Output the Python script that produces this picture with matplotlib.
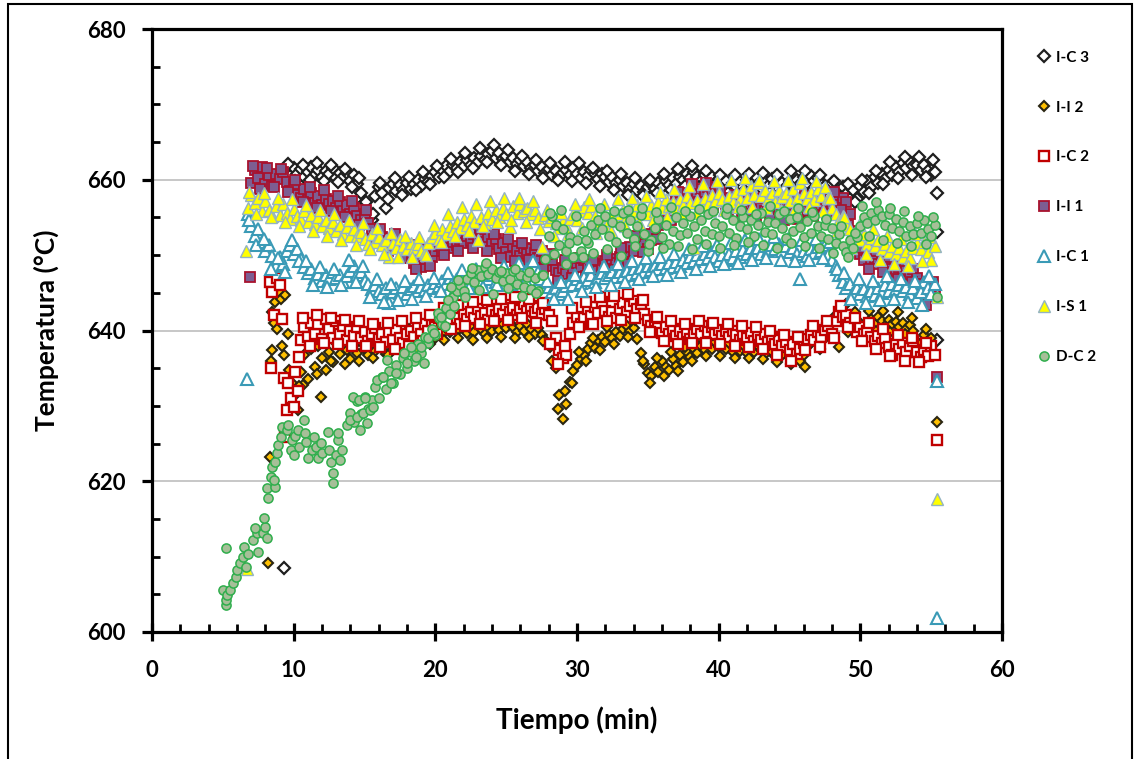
import numpy as np
import matplotlib.pyplot as plt
from matplotlib.patches import Rectangle

plt.rcParams['font.family'] = ['Lato', 'DejaVu Sans']
plt.rcParams['font.weight'] = 'bold'

# logger readings: main run every 0.25 min, second run every 0.5 min
T_STEP = 0.25
T_STEP_B = 0.5

# ---- I-C 3 ----
ic3_t0 = 9.5
ic3_temp = [
    661.2, 660.5, 661.6, 660.8, 661.4, 660.3, 661.0, 661.7,
    660.6, 661.3, 660.4, 661.1, 660.7, 661.5, 660.2, 660.9,
    660.3, 660.9, 659.9, 660.6, 659.4, 658.3, 657.1, 655.6,
    654.6, 657.8, 659.0, 658.2, 656.2, 658.9, 659.4, 658.5,
    659.3, 658.6, 659.6, 658.8, 659.5, 660.0, 659.2, 660.1,
    659.7, 660.5, 661.0, 660.3, 661.3, 661.8, 661.1, 662.0,
    661.5, 662.3, 661.8, 662.6, 662.0, 662.9, 662.4, 663.1,
    662.6, 663.4, 663.8, 662.9, 663.5, 662.7, 663.2, 662.4,
    662.9, 662.1, 662.6, 661.8, 662.3, 661.5, 662.0, 661.2,
    661.7, 660.9, 661.4, 660.6, 661.2, 660.4, 660.9, 661.3,
    660.6, 661.5, 660.8, 660.2, 661.0, 660.5, 661.3, 660.7,
    660.1, 660.8, 660.3, 659.7, 660.4, 659.6, 660.0, 659.2,
    659.6, 658.8, 659.4, 658.6, 659.2, 658.4, 659.0, 659.5,
    658.8, 659.6, 659.1, 659.9, 659.3, 660.2, 659.5, 660.4,
    660.0, 660.8, 660.2, 661.0, 660.4, 659.8, 660.6, 659.9,
    660.3, 659.5, 660.1, 659.3, 659.8, 658.9, 659.6, 659.0,
    659.7, 659.1, 660.0, 659.3, 658.7, 659.5, 658.9, 659.8,
    659.2, 660.1, 659.4, 658.8, 659.6, 659.0, 659.9, 659.3,
    660.0, 659.4, 660.3, 659.6, 660.5, 659.8, 660.2, 659.5,
    659.2, 658.5, 659.6, 658.2, 657.6, 659.0, 658.1, 657.4,
    658.6, 657.5, 659.2, 658.4, 659.8, 659.0, 660.3, 659.6,
    660.8, 660.1, 661.3, 660.6, 661.7, 661.0, 662.2, 661.5,
    662.4, 661.8, 662.0, 661.3, 661.9, 661.2, 660.6, 661.0,
]
ic3_b_t0 = 9.625
ic3_b_temp = [
    662.1, 659.9, 662.0, 660.0, 662.2, 659.8, 661.9, 659.7,
    661.4, 659.0, 660.2, 657.0, 655.4, 659.6, 657.4, 660.2,
    658.0, 660.4, 658.6, 661.0, 659.4, 661.8, 660.3, 662.8,
    661.0, 663.6, 661.6, 664.2, 662.4, 664.6, 662.0, 663.9,
    661.2, 663.2, 660.8, 662.6, 660.2, 662.2, 660.0, 662.3,
    659.8, 662.2, 659.6, 661.6, 659.2, 661.2, 658.6, 660.8,
    658.0, 660.2, 657.8, 660.0, 658.2, 660.8, 658.6, 661.4,
    659.2, 661.8, 659.0, 661.2, 658.4, 660.6, 658.2, 660.6,
    658.2, 660.8, 658.0, 660.9, 658.3, 660.6, 658.6, 661.2,
    658.8, 661.2, 658.6, 660.6, 657.4, 659.8, 656.6, 659.4,
    657.0, 660.0, 658.2, 661.2, 659.4, 662.4, 660.2, 663.0,
    660.6, 663.0, 660.4, 662.6,
]
ic3_extra_time = [9.3, 55.4, 55.4, 55.4]
ic3_extra_temp = [608.5, 658.2, 653.1, 638.8]

# ---- I-I 2 ----
ii2_t0 = 10.5
ii2_temp = [
    634.5, 636.8, 633.6, 637.5, 635.2, 638.0, 636.4, 634.8,
    637.2, 635.8, 638.3, 636.9, 638.6, 637.4, 636.2, 638.1,
    637.0, 638.5, 637.6, 636.8, 638.2, 637.3, 638.7, 637.9,
    636.9, 638.4, 637.5, 638.9, 638.0, 637.2, 638.6, 639.1,
    638.3, 639.2, 638.6, 639.5, 638.8, 639.7, 639.0, 640.1,
    639.6, 640.3, 639.8, 640.6, 640.0, 640.9, 640.3, 639.7,
    640.5, 639.8, 640.8, 640.2, 639.6, 640.4, 639.9, 640.7,
    640.1, 640.9, 640.3, 641.0, 640.4, 639.8, 640.6, 640.0,
    640.8, 640.2, 639.6, 640.3, 639.4, 638.8, 638.1, 636.0,
    635.0, 631.5, 628.3, 630.2, 633.2, 634.6, 635.4, 636.2,
    636.8, 637.6, 638.3, 637.7, 638.7, 639.2, 638.5, 639.4,
    639.0, 639.8, 639.3, 640.2, 640.6, 639.9, 640.3, 638.9,
    637.0, 635.6, 634.4, 633.9, 635.2, 634.5, 636.0, 635.1,
    634.7, 636.2, 635.3, 636.7, 635.8, 637.2, 636.5, 637.6,
    637.0, 638.0, 637.4, 638.3, 637.6, 638.5, 637.8, 638.2,
    637.5, 638.4, 637.2, 637.9, 637.3, 638.1, 637.0, 637.7,
    637.2, 638.0, 637.4, 636.9, 637.8, 637.1, 636.6, 637.4,
    636.8, 637.6, 636.3, 637.1, 636.5, 635.9, 636.8, 637.9,
    638.4, 639.1, 638.6, 639.6, 640.0, 639.3, 641.2, 642.0,
    637.8, 642.6, 643.5, 642.0, 641.2, 640.5, 641.0, 640.3,
    640.8, 641.5, 640.9, 641.8, 641.2, 640.6, 641.4, 640.8,
    641.1, 640.5, 641.0, 640.2, 640.7, 639.9, 638.5, 637.2,
    639.4, 638.6, 639.0,
]
ii2_b_t0 = 10.625
ii2_b_temp = [
    632.8, 638.0, 634.2, 639.0, 636.0, 639.4, 635.6, 639.2,
    636.0, 639.6, 636.4, 639.8, 636.8, 640.0, 637.2, 640.2,
    637.6, 640.6, 638.2, 641.2, 638.8, 641.8, 639.0, 641.6,
    638.8, 641.8, 639.0, 641.9, 639.2, 641.6, 639.0, 641.8,
    639.2, 641.4, 638.6, 637.8, 629.6, 632.0, 633.0, 637.2,
    636.0, 639.0, 637.4, 640.4, 638.2, 641.2, 639.2, 641.4,
    636.0, 633.0, 636.4, 634.0, 637.2, 634.6, 637.8, 636.0,
    639.2, 636.6, 639.4, 636.6, 639.2, 636.4, 639.0, 636.4,
    638.8, 636.2, 638.6, 635.8, 638.2, 635.6, 637.6, 635.2,
    639.8, 637.6, 641.0, 639.2, 643.0, 639.8, 642.4, 639.6,
    642.6, 640.0, 642.6, 639.8, 642.4, 639.6, 641.6, 638.2,
    640.2,
]
ii2_extra_time = [8.2, 8.3, 8.4, 8.5, 8.6, 8.5, 8.7, 8.8, 9.0, 9.1, 9.2,
                  9.3, 9.4, 9.6, 9.7, 9.9, 10.1, 10.3, 10.4, 11.9, 55.4]
ii2_extra_temp = [609.1, 623.2, 636.0, 642.4, 641.0, 637.4, 643.8, 640.2,
                  645.0, 644.2, 638.0, 636.7, 644.7, 639.5, 634.8, 633.0,
                  631.5, 629.5, 632.6, 631.2, 627.9]

# ---- I-C 2 ----
ic2_t0 = 10.5
ic2_temp = [
    638.8, 640.5, 639.2, 641.0, 639.6, 640.8, 638.9, 641.5,
    640.2, 639.0, 641.2, 639.6, 640.6, 638.7, 640.0, 639.3,
    640.4, 639.0, 639.8, 638.6, 639.5, 640.3, 638.9, 639.6,
    638.5, 639.8, 638.7, 640.1, 639.0, 638.4, 639.5, 640.0,
    639.2, 640.4, 639.5, 640.8, 640.0, 641.2, 640.4, 641.6,
    640.8, 642.0, 641.3, 642.5, 641.6, 640.9, 642.2, 641.5,
    642.4, 641.7, 642.8, 641.9, 642.3, 641.4, 642.6, 642.0,
    642.9, 642.2, 643.4, 642.5, 643.0, 642.1, 642.7, 643.5,
    642.6, 643.2, 642.4, 643.0, 642.2, 642.8, 642.0, 641.2,
    639.0, 637.4, 636.3, 636.8, 639.5, 641.0, 641.8, 640.9,
    641.6, 642.8, 641.9, 643.1, 642.3, 643.8, 642.6, 641.8,
    642.5, 641.7, 642.9, 643.6, 642.4, 643.2, 643.9, 642.8,
    643.5, 642.2, 641.4, 640.6, 641.2, 640.3, 639.7, 640.5,
    639.6, 640.2, 639.3, 640.0, 639.2, 639.8, 638.9, 639.6,
    640.2, 639.5, 640.6, 639.8, 640.4, 639.6, 640.1, 639.3,
    639.9, 639.2, 640.0, 639.4, 638.8, 639.6, 639.0, 639.7,
    638.6, 639.4, 638.8, 639.5, 638.5, 639.1, 638.2, 638.8,
    637.9, 638.5, 637.4, 638.2, 636.9, 637.6, 638.3, 638.9,
    639.4, 638.7, 639.8, 639.2, 640.1, 640.6, 639.6, 641.3,
    642.4, 641.8, 642.0, 641.0, 640.4, 639.8, 640.5, 639.5,
    640.0, 639.2, 638.6, 639.3, 638.4, 639.0, 637.8, 636.8,
    638.2, 637.5, 638.4, 637.2, 637.9, 638.6, 637.1, 636.5,
    637.4, 636.6, 638.0, 636.8,
]
ic2_b_t0 = 10.625
ic2_b_temp = [
    641.6, 638.0, 642.0, 638.4, 641.6, 638.2, 641.4, 638.0,
    641.2, 638.0, 640.8, 637.8, 641.0, 637.6, 641.2, 638.0,
    641.6, 638.6, 642.0, 639.6, 643.0, 640.2, 643.4, 640.6,
    643.8, 640.8, 644.0, 641.2, 644.2, 641.4, 644.4, 641.6,
    644.2, 641.0, 643.6, 638.2, 635.6, 638.0, 643.0, 640.4,
    643.8, 640.8, 644.4, 641.2, 644.6, 641.4, 644.8, 641.6,
    644.0, 639.8, 641.8, 638.6, 641.2, 638.2, 640.8, 638.4,
    641.2, 638.4, 641.0, 638.2, 640.8, 638.0, 640.6, 637.8,
    640.4, 637.6, 640.0, 636.8, 639.4, 636.0, 639.2, 637.4,
    640.6, 637.8, 641.2, 639.0, 643.2, 640.4, 641.6, 638.6,
    641.0, 637.6, 640.2, 636.6, 639.4, 636.0, 639.0, 635.8,
    638.4,
]
ic2_extra_time = [8.3, 8.5, 8.4, 8.6, 8.8, 9.0, 9.2, 9.3, 9.4, 9.5, 9.6,
                  9.8, 10.0, 10.1, 10.3, 10.4, 55.4]
ic2_extra_temp = [646.5, 645.1, 635.0, 642.0, 647.0, 646.0, 641.5, 633.7,
                  625.9, 629.5, 633.0, 631.0, 629.8, 634.5, 632.0, 636.5,
                  625.5]

# ---- I-I 1 ----
ii1_t0 = 7.0
ii1_temp = [
    659.6, 661.3, 660.2, 661.7, 659.4, 660.6, 659.2, 660.8,
    660.1, 661.0, 659.7, 658.5, 659.5, 658.0, 657.6, 658.8,
    657.3, 658.3, 656.9, 657.8, 656.6, 657.5, 656.8, 657.2,
    656.3, 657.0, 655.9, 656.6, 655.5, 656.2, 655.2, 654.6,
    655.4, 654.2, 653.5, 652.6, 651.8, 652.4, 651.6, 652.2,
    651.3, 651.9, 650.8, 650.2, 651.0, 649.6, 648.9, 649.8,
    648.4, 649.5, 650.2, 649.8, 650.6, 651.2, 650.5, 651.4,
    651.0, 651.8, 651.3, 652.2, 651.6, 652.5, 651.9, 652.8,
    652.1, 652.6, 651.8, 652.4, 651.5, 652.2, 650.8, 651.6,
    650.4, 649.8, 651.2, 650.5, 649.9, 651.0, 650.2, 650.8,
    650.3, 649.6, 650.6, 649.2, 648.6, 649.4, 648.0, 647.6,
    648.3, 647.5, 648.8, 648.1, 649.0, 648.4, 649.3, 648.6,
    648.0, 648.8, 647.9, 648.5, 649.2, 648.6, 649.5, 649.0,
    649.8, 649.3, 650.4, 651.1, 650.6, 651.8, 652.3, 651.5,
    650.8, 652.0, 653.2, 654.0, 655.1, 655.8, 656.4, 655.9,
    657.0, 657.6, 656.8, 658.2, 657.5, 658.5, 657.9, 658.8,
    658.3, 659.0, 658.1, 657.5, 658.2, 657.3, 656.8, 657.6,
    657.0, 656.4, 657.2, 656.6, 655.9, 656.8, 656.2, 657.0,
    656.5, 655.8, 656.7, 656.0, 655.5, 656.3, 655.7, 656.5,
    656.0, 655.3, 656.2, 655.6, 656.4, 655.8, 656.9, 656.3,
    655.7, 656.6, 656.1, 657.0, 656.4, 657.3, 656.7, 657.6,
    657.0, 655.5, 653.2, 651.4, 650.2, 649.4, 650.0, 649.0,
    649.6, 648.8, 649.4, 648.5, 649.7, 648.2, 647.6, 648.4,
    647.9, 648.6, 647.3, 648.1, 646.9, 645.4, 644.2, 645.0,
    645.8, 644.6,
]
ii1_b_t0 = 7.125
ii1_b_temp = [
    661.8, 658.8, 661.6, 659.0, 661.4, 658.4, 660.0, 657.0,
    659.0, 656.2, 658.6, 655.8, 657.8, 655.0, 657.2, 654.0,
    656.0, 652.0, 653.4, 650.6, 652.8, 649.6, 651.4, 648.2,
    650.8, 648.6, 652.0, 650.0, 652.8, 650.6, 653.4, 651.0,
    653.4, 650.6, 652.8, 649.6, 652.2, 649.2, 651.6, 649.4,
    651.4, 648.2, 650.2, 646.6, 649.4, 647.0, 649.6, 647.2,
    649.4, 647.0, 650.0, 648.0, 651.0, 648.8, 652.6, 650.4,
    652.8, 652.2, 656.4, 654.6, 658.4, 656.2, 659.4, 657.0,
    659.6, 656.4, 658.4, 655.8, 658.0, 655.2, 657.8, 655.0,
    657.6, 654.8, 657.4, 654.6, 657.6, 654.8, 657.8, 655.2,
    657.8, 655.4, 658.4, 656.0, 654.0, 651.8, 651.0, 648.2,
    650.6, 647.8, 650.4, 646.8, 649.2, 646.4, 646.2, 643.4,
    646.4,
]
ii1_extra_time = [6.9, 55.4]
ii1_extra_temp = [647.1, 633.8]

# ---- I-C 1 ----
ic1_t0 = 6.75
ic1_temp = [
    655.5, 653.8, 652.6, 653.4, 651.8, 650.6, 651.3, 649.9,
    648.6, 649.8, 648.8, 650.6, 651.3, 650.2, 650.8, 649.5,
    648.4, 647.6, 648.2, 646.9, 647.5, 646.6, 647.3, 646.8,
    647.7, 646.9, 647.4, 646.5, 647.2, 647.9, 648.5, 647.4,
    647.8, 646.6, 646.2, 645.5, 646.0, 645.2, 644.8, 645.6,
    643.6, 645.1, 645.7, 645.0, 645.8, 644.9, 645.5, 645.9,
    645.2, 645.8, 645.4, 646.1, 645.6, 646.3, 645.9, 646.6,
    646.2, 647.0, 646.4, 646.8, 646.1, 647.2, 646.5, 647.0,
    646.3, 647.1, 646.6, 647.4, 646.8, 647.3, 646.5, 647.5,
    646.9, 647.6, 647.0, 647.8, 647.2, 648.0, 647.4, 648.2,
    647.6, 648.3, 647.8, 647.1, 646.4, 645.8, 645.1, 645.7,
    644.8, 645.3, 645.9, 646.4, 646.0, 646.8, 646.3, 647.1,
    646.7, 647.3, 646.5, 647.0, 647.6, 646.9, 647.4, 647.8,
    647.1, 647.7, 647.2, 647.9, 647.4, 648.1, 647.6, 648.3,
    647.8, 648.5, 648.0, 648.6, 648.1, 648.8, 648.3, 648.9,
    648.4, 649.1, 648.6, 649.4, 649.0, 649.7, 649.2, 650.0,
    649.5, 650.2, 649.6, 650.4, 649.8, 649.2, 650.0, 649.4,
    650.1, 649.6, 650.5, 649.8, 650.7, 650.1, 651.0, 650.3,
    650.9, 650.2, 651.2, 650.5, 651.4, 650.8, 651.5, 650.6,
    651.2, 650.4, 651.0, 650.2, 646.8, 650.6, 649.9, 650.8,
    650.3, 651.1, 650.5, 651.3, 650.0, 649.4, 648.6, 647.4,
    646.5, 645.6, 646.2, 645.0, 645.7, 644.8, 645.5, 644.6,
    645.3, 644.7, 645.6, 645.0, 646.0, 645.3, 646.2, 645.5,
    646.0, 645.2, 645.8, 644.9, 645.6, 644.3, 645.1, 646.4,
    645.6, 644.8, 646.2,
]
ic1_b_t0 = 6.875
ic1_b_temp = [
    654.6, 651.4, 652.2, 648.2, 649.6, 647.8, 652.0, 649.2,
    649.2, 646.0, 648.4, 645.8, 648.2, 646.0, 649.4, 646.4,
    648.6, 644.4, 646.8, 643.8, 646.2, 644.0, 646.6, 644.2,
    646.8, 644.6, 647.0, 645.2, 647.6, 645.4, 648.0, 645.6,
    648.2, 645.8, 648.4, 646.0, 648.6, 646.2, 649.0, 646.6,
    649.2, 646.8, 646.6, 644.2, 646.4, 644.2, 647.4, 645.2,
    648.4, 645.8, 648.6, 646.0, 648.8, 646.4, 649.2, 646.8,
    649.6, 647.2, 649.8, 647.4, 650.2, 647.8, 650.8, 648.2,
    651.2, 648.6, 651.4, 648.8, 651.6, 649.0, 652.0, 649.4,
    652.2, 649.6, 652.4, 649.4, 652.2, 649.2, 652.0, 649.4,
    652.2, 649.6, 651.8, 648.2, 647.6, 644.2, 646.8, 643.6,
    646.6, 644.0, 647.2, 644.2, 646.8, 643.8, 646.6, 643.4,
    647.2,
]
ic1_extra_time = [6.7, 55.4, 55.4]
ic1_extra_temp = [633.6, 633.3, 601.9]

# ---- I-S 1 ----
is1_t0 = 6.75
is1_temp = [
    656.2, 658.0, 656.9, 657.6, 655.8, 657.2, 656.0, 655.2,
    656.5, 655.3, 656.8, 655.6, 654.8, 656.1, 655.2, 654.6,
    655.8, 654.4, 655.3, 654.1, 655.0, 653.8, 654.7, 653.6,
    654.4, 653.2, 654.0, 652.8, 653.7, 652.6, 653.4, 652.5,
    653.1, 652.2, 651.5, 652.8, 651.8, 652.4, 651.3, 652.0,
    649.8, 651.6, 651.0, 652.1, 651.2, 650.8, 651.6, 650.9,
    651.5, 650.6, 650.3, 651.6, 652.4, 653.0, 652.2, 653.4,
    652.8, 653.9, 653.2, 654.4, 653.6, 654.8, 654.0, 655.2,
    654.4, 652.0, 655.0, 654.3, 655.6, 654.8, 656.0, 655.1,
    656.2, 655.4, 653.7, 656.5, 655.6, 656.8, 655.8, 656.3,
    655.5, 656.0, 654.9, 651.1, 655.3, 654.5, 655.0, 654.2,
    653.6, 654.5, 653.8, 654.8, 655.5, 654.6, 655.8, 656.4,
    655.6, 656.5, 655.2, 654.4, 655.0, 653.8, 654.6, 655.3,
    654.5, 655.4, 656.0, 655.2, 656.3, 655.5, 656.6, 655.8,
    656.2, 655.4, 656.7, 655.8, 657.0, 656.2, 657.4, 656.5,
    657.1, 656.3, 657.5, 656.7, 657.8, 656.9, 651.0, 657.3,
    656.6, 657.6, 656.8, 658.0, 657.2, 658.2, 657.4, 656.6,
    657.8, 657.0, 658.4, 657.5, 658.8, 657.6, 659.2, 658.0,
    659.6, 657.8, 658.6, 657.4, 658.2, 657.0, 658.6, 657.7,
    658.3, 657.2, 658.8, 657.6, 659.6, 658.2, 657.5, 658.4,
    657.3, 658.8, 657.8, 659.0, 657.6, 656.2, 655.4, 654.6,
    655.2, 654.0, 653.4, 652.6, 653.2, 652.0, 652.8, 651.5,
    652.3, 651.2, 652.0, 650.8, 651.5, 650.4, 651.2, 650.2,
    651.0, 649.8, 650.6, 649.6, 650.9, 651.6, 650.8, 651.8,
    650.4, 649.4, 651.2,
]
is1_b_t0 = 6.875
is1_b_temp = [
    658.4, 655.4, 658.2, 655.0, 657.6, 654.4, 657.4, 653.8,
    656.6, 653.2, 656.0, 652.6, 655.4, 652.0, 654.6, 651.4,
    654.2, 650.8, 653.6, 650.2, 653.0, 649.8, 652.6, 649.8,
    652.4, 650.0, 654.0, 651.8, 655.4, 652.6, 656.4, 653.2,
    656.8, 653.8, 657.2, 654.4, 657.6, 654.6, 657.6, 654.4,
    657.2, 653.4, 656.0, 652.6, 655.6, 652.8, 656.8, 653.6,
    657.4, 653.0, 656.8, 653.2, 657.4, 653.8, 657.6, 654.2,
    657.8, 654.6, 658.4, 655.0, 658.8, 655.4, 659.2, 655.6,
    659.4, 655.8, 659.8, 656.0, 660.0, 656.4, 660.2, 656.4,
    660.0, 656.2, 659.8, 656.0, 660.0, 656.2, 660.2, 656.4,
    659.8, 655.8, 657.6, 653.2, 655.0, 651.0, 654.0, 650.2,
    653.4, 649.4, 652.6, 648.8, 652.2, 648.6, 652.8, 649.2,
    652.4,
]
is1_extra_time = [6.6, 6.7, 55.4, 55.4]
is1_extra_temp = [650.5, 608.3, 644.5, 617.6]

# ---- D-C 2 ----
dc2_t0 = 13.75
dc2_temp = [
    627.4, 629.0, 627.8, 630.6, 628.9, 631.2, 629.6, 630.8,
    632.5, 631.0, 633.8, 632.2, 634.6, 633.0, 635.4, 634.2,
    636.4, 635.0, 637.2, 636.0, 638.2, 637.0, 639.2, 638.4,
    640.2, 639.4, 641.6, 640.8, 643.0, 642.2, 644.4, 645.3,
    646.0, 645.2, 646.8, 647.6, 646.5, 648.0, 647.2, 648.4,
    647.5, 648.2, 647.0, 647.8, 646.6, 647.6, 646.8, 647.9,
    646.2, 647.4, 645.8, 647.1, 645.5, 646.9, 645.2, 647.3,
    649.5, 652.6, 655.2, 654.0, 651.4, 653.5, 650.6, 652.4,
    649.8, 652.0, 650.5, 653.2, 651.6, 654.0, 652.8, 654.6,
    653.4, 655.2, 652.6, 654.4, 651.8, 653.8, 655.6, 652.9,
    654.6, 652.2, 653.9, 655.3, 652.8, 650.6, 652.0, 653.6,
    654.8, 652.4, 654.0, 651.5, 653.2, 655.0, 652.7, 654.3,
    653.0, 655.2, 653.8, 652.1, 654.6, 653.2, 655.4, 652.8,
    654.2, 652.6, 653.9, 655.5, 653.0, 654.7, 652.3, 653.8,
    655.0, 653.4, 654.6, 652.5, 654.0, 655.6, 653.1, 654.4,
    652.8, 654.2, 655.4, 653.6, 652.3, 654.8, 653.2, 655.0,
    653.7, 652.4, 654.5, 653.0, 655.2, 653.8, 652.6, 654.0,
    652.2, 653.6, 651.6, 652.8, 651.2, 650.4, 652.0, 651.0,
    652.4, 653.8, 655.0, 654.2, 655.6, 654.6, 656.0, 655.2,
    654.0, 655.4, 653.6, 654.8, 653.2, 654.4, 652.6, 653.9,
    652.8, 654.2, 653.0, 654.6, 653.4, 652.5, 654.0,
]
dc2_b_t0 = 13.875
dc2_b_temp = []
# early heating cloud and the wider spread of the band
dc2_extra_time = [
    5.0, 5.2, 5.25, 5.3, 5.5, 5.2, 5.7, 5.9, 6.0, 6.2, 6.4, 6.5, 6.8, 6.6,
    7.1, 7.4, 7.3, 7.8, 8.0, 7.9, 8.1, 7.5, 8.2, 8.15, 8.7, 8.4, 8.6, 8.5,
    8.7, 8.8, 8.9, 9.1, 9.2, 9.5, 9.6, 9.8, 9.9, 10.0, 10.1, 10.3, 10.4,
    10.7, 10.8, 10.9, 11.0, 11.3, 11.4, 11.6, 11.7, 11.9, 12.0, 12.4, 12.5,
    12.6, 12.8, 12.8, 13.0, 13.1, 13.3, 13.4, 13.1, 14.0, 14.5, 14.7, 14.9,
    15.2, 15.4, 15.6,
    14.2, 14.6, 15.0, 15.9, 16.3, 16.6, 16.9, 17.2, 17.8, 18.0, 18.3, 18.6,
    19.0, 19.2, 19.5, 19.9, 20.2, 20.4, 20.7, 20.9, 21.1, 21.3, 21.6,
    22.1, 22.6, 23.1, 23.6, 24.1, 24.6, 25.1, 25.6, 26.1, 26.6, 27.1, 27.6,
    28.1, 28.4, 28.9, 29.2, 29.4, 29.9, 30.4, 30.6, 31.1, 31.6, 32.1, 32.6,
    33.1, 33.6, 34.1, 34.6, 35.1, 35.6, 36.1, 36.6, 37.1, 37.6, 38.1, 38.6,
    39.1, 39.6, 40.1, 40.6, 41.1, 41.6, 42.1, 42.6, 43.1, 43.6, 44.1, 44.6,
    45.1, 45.6, 46.1, 46.6, 47.1, 47.6, 48.1, 48.6, 49.1, 49.6, 50.1, 50.6,
    51.1, 51.6, 52.1, 52.6, 53.1, 53.6, 54.1, 54.6, 55.1, 55.4,
]
dc2_extra_temp = [
    605.6, 603.6, 604.2, 604.9, 605.6, 611.1, 606.5, 607.3, 608.2, 609.1,
    610.0, 611.3, 610.4, 608.6, 612.2, 613.1, 613.8, 613.1, 613.9, 615.1,
    612.5, 610.6, 617.8, 619.1, 619.2, 620.6, 620.2, 621.9, 622.5, 623.7,
    624.8, 625.9, 627.2, 626.8, 627.5, 624.1, 625.5, 623.5, 626.0, 626.8,
    624.6, 628.1, 626.4, 625.2, 623.1, 624.1, 625.9, 624.6, 623.1, 625.1,
    623.7, 626.5, 624.1, 622.5, 621.1, 619.8, 623.5, 625.5, 622.8, 624.1,
    626.4, 628.1, 628.5, 626.8, 629.1, 627.7, 629.5, 629.9,
    631.2, 630.8, 631.0, 633.4, 633.8, 636.1, 633.0, 634.4, 637.0, 635.7,
    637.8, 636.5, 637.8, 635.7, 639.0, 639.7, 642.3, 641.8, 640.6, 644.0,
    645.8, 643.2, 646.7,
    644.5, 648.3, 645.4, 648.9, 644.8, 647.9, 645.6, 648.1, 644.6, 647.8,
    645.0, 647.4, 655.6, 650.2, 656.0, 648.8, 651.6, 655.2, 649.8, 652.0,
    650.3, 656.2, 650.8, 655.8, 649.9, 656.0, 651.2, 656.2, 651.5, 655.7,
    650.9, 656.4, 651.2, 655.9, 650.8, 656.1, 651.5, 655.8, 651.0, 656.3,
    651.4, 656.0, 651.8, 655.4, 651.3, 656.5, 651.0, 655.9, 651.6, 656.2,
    651.2, 655.7, 651.0, 654.8, 650.3, 653.8, 649.8, 652.9, 656.5, 652.5,
    657.0, 652.0, 656.2, 651.6, 655.8, 651.2, 655.2, 651.5, 655.0, 644.4,
]

labels = ['I-C 3', 'I-I 2', 'I-C 2', 'I-I 1', 'I-C 1', 'I-S 1', 'D-C 2']


def join(t0, temps, b_t0, b_temps, extra_t, extra_T):
    t = t0 + T_STEP * np.arange(len(temps))
    tb = b_t0 + T_STEP_B * np.arange(len(b_temps))
    return (np.concatenate([t, tb, extra_t]),
            np.concatenate([temps, b_temps, extra_T]))


data = [
    join(ic3_t0, ic3_temp, ic3_b_t0, ic3_b_temp, ic3_extra_time, ic3_extra_temp),
    join(ii2_t0, ii2_temp, ii2_b_t0, ii2_b_temp, ii2_extra_time, ii2_extra_temp),
    join(ic2_t0, ic2_temp, ic2_b_t0, ic2_b_temp, ic2_extra_time, ic2_extra_temp),
    join(ii1_t0, ii1_temp, ii1_b_t0, ii1_b_temp, ii1_extra_time, ii1_extra_temp),
    join(ic1_t0, ic1_temp, ic1_b_t0, ic1_b_temp, ic1_extra_time, ic1_extra_temp),
    join(is1_t0, is1_temp, is1_b_t0, is1_b_temp, is1_extra_time, is1_extra_temp),
    join(dc2_t0, dc2_temp, dc2_b_t0, dc2_b_temp, dc2_extra_time, dc2_extra_temp),
]

styles = [
    dict(marker='D', ms=6.3, mfc='white', mec='#1F1F1F', mew=1.6),
    dict(marker='D', ms=5.4, mfc='#FFC000', mec='#2A2612', mew=1.5),
    dict(marker='s', ms=6.6, mfc='white', mec='#C00000', mew=1.7),
    dict(marker='s', ms=7.2, mfc='#7D5E92', mec='#A8122E', mew=1.3),
    dict(marker='^', ms=8.0, mfc='white', mec='#3A9AB6', mew=1.5),
    dict(marker='^', ms=8.6, mfc='#FFFF00', mec='#93B3C2', mew=1.0),
    dict(marker='o', ms=6.6, mfc='#A6BF98', mec='#2FAE4C', mew=1.1),
]

fig = plt.figure(figsize=(11.35, 7.59), dpi=100)
ax = fig.add_axes([152/1135, 1-632/759, 850/1135, 603/759])

for (t, T), lab, st in zip(data, labels, styles):
    ax.plot(t, T, linestyle='none', label=lab, **st)

ax.set_xlim(0, 60)
ax.set_ylim(600, 680)
ax.set_xticks(np.arange(0, 61, 10))
ax.set_xticks(np.arange(0, 61, 2), minor=True)
ax.set_yticks(np.arange(600, 681, 20))
ax.set_yticks(np.arange(600, 681, 5), minor=True)

ax.yaxis.grid(True, which='major', color='#BDBDBD', lw=1.2)
ax.set_axisbelow(True)

for s in ax.spines.values():
    s.set_linewidth(2.3)
    s.set_color('black')

ax.tick_params(axis='x', which='major', direction='inout', length=13, width=2.3,
               labelsize=16, pad=14)
ax.tick_params(axis='x', which='minor', direction='in', length=6, width=2.0)
ax.tick_params(axis='y', which='major', direction='out', length=7, width=2.3,
               labelsize=16, pad=12)
ax.tick_params(axis='y', which='minor', direction='in', length=6, width=2.0)
for lbl in ax.get_xticklabels() + ax.get_yticklabels():
    lbl.set_fontweight('bold')

ax.set_xlabel('Tiempo (min)', fontsize=20, fontweight='bold', labelpad=18)
ax.set_ylabel('Temperatura (°C)', fontsize=19, fontweight='bold', labelpad=20)

leg = ax.legend(loc='upper left', bbox_to_anchor=(1029/1135, 1-43/759),
                bbox_transform=fig.transFigure, frameon=False, fontsize=11,
                labelspacing=2.35, handlelength=0.9, handletextpad=0.35,
                borderpad=0)
for txt in leg.get_texts():
    txt.set_fontweight('bold')

fig.patches.append(Rectangle((8/1135, -0.01), 1124/1135, 1.01 - 4/759,
                             transform=fig.transFigure, fill=False,
                             edgecolor='black', lw=1.5))

fig.savefig('out.png', dpi=100)
